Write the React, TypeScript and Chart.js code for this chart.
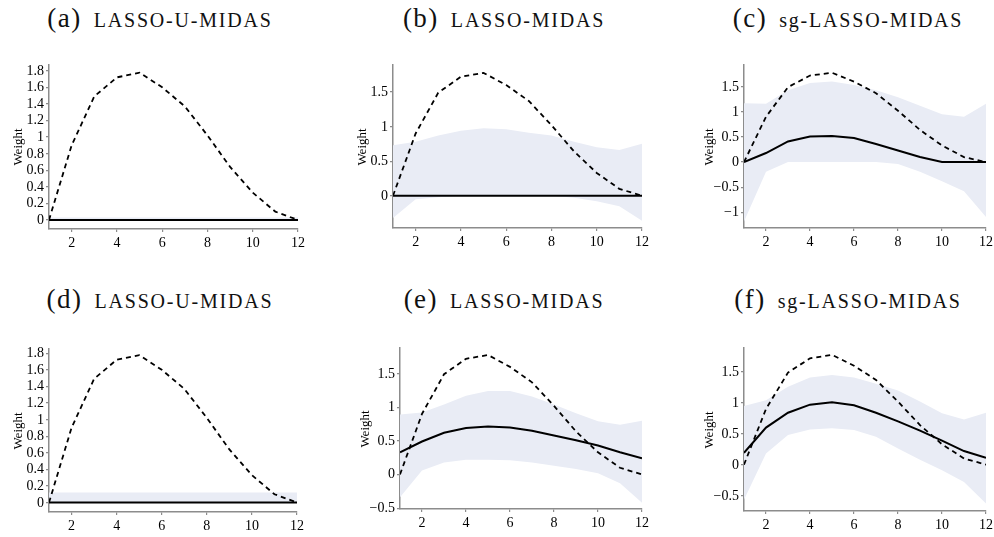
import React, { useEffect, useRef, useState } from "react";
import { Chart, registerables } from "chart.js";
Chart.register(...registerables);

const lags = [1, 2, 3, 4, 5, 6, 7, 8, 9, 10, 11, 12];
const xTickValues = [2, 4, 6, 8, 10, 12];
const trueWeights = [0, 0.9, 1.49, 1.72, 1.776, 1.6, 1.37, 1.02, 0.64, 0.33, 0.1, 0];

const yTicksFine = [0, 0.2, 0.4, 0.6, 0.8, 1, 1.2, 1.4, 1.6, 1.8];
const yTicksB = [0, 0.5, 1, 1.5];
const yTicksC = [-1, -0.5, 0, 0.5, 1, 1.5];
const yTicksEF = [-0.5, 0, 0.5, 1, 1.5];

// (a) LASSO-U-MIDAS
const estA = [0, 0, 0, 0, 0, 0, 0, 0, 0, 0, 0, 0];
const upA = [0.03, 0.03, 0.03, 0.03, 0.03, 0.03, 0.03, 0.03, 0.03, 0.03, 0.03, 0.03];
const loA = [0, 0, 0, 0, 0, 0, 0, 0, 0, 0, 0, 0];
// (b) LASSO-MIDAS
const estB = [0, 0, 0, 0, 0, 0, 0, 0, 0, 0, 0, 0];
const upB = [0.73, 0.78, 0.87, 0.94, 0.976, 0.96, 0.91, 0.87, 0.78, 0.7, 0.66, 0.75];
const loB = [-0.32, -0.05, -0.02, 0, 0, 0, 0, 0, -0.03, -0.08, -0.15, -0.36];
// (c) sg-LASSO-MIDAS
const estC = [0, 0.18, 0.41, 0.51, 0.52, 0.48, 0.36, 0.23, 0.1, 0, 0, 0];
const upC = [1.17, 1.16, 1.43, 1.57, 1.6, 1.53, 1.43, 1.29, 1.12, 0.95, 0.9, 1.16];
const loC = [-1.18, -0.19, 0, 0, 0, 0, 0, -0.04, -0.19, -0.38, -0.58, -1.09];
// (d) LASSO-U-MIDAS
const estD = [0, 0, 0, 0, 0, 0, 0, 0, 0, 0, 0, 0];
const upD = [0.12, 0.12, 0.12, 0.12, 0.12, 0.12, 0.12, 0.12, 0.12, 0.12, 0.12, 0.12];
const loD = [0, 0, 0, 0, 0, 0, 0, 0, 0, 0, 0, 0];
// (e) LASSO-MIDAS
const estE = [0.33, 0.49, 0.62, 0.69, 0.715, 0.7, 0.65, 0.58, 0.51, 0.43, 0.33, 0.24];
const upE = [0.89, 0.92, 1.04, 1.17, 1.24, 1.24, 1.16, 1.04, 0.91, 0.79, 0.74, 0.8];
const loE = [-0.34, 0.06, 0.18, 0.22, 0.22, 0.21, 0.18, 0.13, 0.08, 0.02, -0.13, -0.42];
// (f) sg-LASSO-MIDAS
const estF = [0.19, 0.6, 0.84, 0.97, 1.01, 0.96, 0.84, 0.7, 0.55, 0.39, 0.22, 0.11];
const upF = [0.95, 1.04, 1.26, 1.41, 1.45, 1.41, 1.31, 1.2, 1.02, 0.83, 0.73, 0.84];
const loF = [-0.57, 0.18, 0.48, 0.57, 0.59, 0.56, 0.45, 0.26, 0.08, -0.09, -0.28, -0.63];

const BAND = "rgb(233,236,245)";
const AXIS = "#8c8c8c";
const FONT = '"Liberation Serif", "DejaVu Serif", serif';

type Panel = {
  label: string;
  name: string;
  center: number;
  titleTop: number;
  axisX: number;
  right: number;
  top: number;
  bottom: number;
  ymin: number;
  ymax: number;
  yTicks: number[];
  weightOffset: number;
  est: number[];
  up: number[];
  lo: number[];
};

const panels: Panel[] = [
  { label: "(a)", name: "LASSO-U-MIDAS", center: 160, titleTop: 5, axisX: 49, right: 298, top: 65, bottom: 229, ymin: -0.109, ymax: 1.869, yTicks: yTicksFine, weightOffset: 32, est: estA, up: upA, lo: loA },
  { label: "(b)", name: "LASSO-MIDAS", center: 504, titleTop: 5, axisX: 393, right: 642, top: 65, bottom: 228, ymin: -0.466, ymax: 1.89, yTicks: yTicksB, weightOffset: 32, est: estB, up: upB, lo: loB },
  { label: "(c)", name: "sg-LASSO-MIDAS", center: 848, titleTop: 5, axisX: 744, right: 986, top: 65, bottom: 228, ymin: -1.31, ymax: 1.93, yTicks: yTicksC, weightOffset: 36, est: estC, up: upC, lo: loC },
  { label: "(d)", name: "LASSO-U-MIDAS", center: 160, titleTop: 286, axisX: 49, right: 297, top: 349, bottom: 512, ymin: -0.114, ymax: 1.85, yTicks: yTicksFine, weightOffset: 32, est: estD, up: upD, lo: loD },
  { label: "(e)", name: "LASSO-MIDAS", center: 504, titleTop: 286, axisX: 400, right: 642, top: 348, bottom: 509, ymin: -0.513, ymax: 1.88, yTicks: yTicksEF, weightOffset: 36, est: estE, up: upE, lo: loE },
  { label: "(f)", name: "sg-LASSO-MIDAS", center: 848, titleTop: 286, axisX: 744, right: 986, top: 348, bottom: 511, ymin: -0.75, ymax: 1.887, yTicks: yTicksEF, weightOffset: 36, est: estF, up: upF, lo: loF },
];

const fmt = (v: number) => {
  const r = Math.round(v * 10) / 10;
  const s = String(Math.abs(r));
  return r < 0 ? "\u2212" + s : s;
};

const pts = (ys: number[]) => lags.map((x, i) => ({ x, y: ys[i] }));

const AXIS_W = 50;
const PAD_TOP = 10;
const PAD_RIGHT = 20;
const X_H = 30;

type TickLabel = { t: string; p: number };

function PanelChart({ p }: { p: Panel }) {
  const ref = useRef<HTMLCanvasElement>(null);
  const [xLabels, setXLabels] = useState<TickLabel[]>([]);
  const [yLabels, setYLabels] = useState<TickLabel[]>([]);
  const left = p.axisX - AXIS_W;
  const top = p.top - PAD_TOP;
  const width = p.right + PAD_RIGHT - left;
  const height = p.bottom - top + X_H;

  useEffect(() => {
    if (!ref.current) return;
    const chart = new Chart(ref.current, {
      type: "line",
      data: {
        datasets: [
          { data: pts(trueWeights), borderColor: "#000", borderWidth: 1.8, borderDash: [5, 4], pointRadius: 0, fill: false, tension: 0 },
          { data: pts(p.est), borderColor: "#000", borderWidth: 2, pointRadius: 0, fill: false, tension: 0 },
          { data: pts(p.up), borderWidth: 0, borderColor: BAND, backgroundColor: BAND, pointRadius: 0, fill: "+1", tension: 0 },
          { data: pts(p.lo), borderWidth: 0, borderColor: BAND, backgroundColor: BAND, pointRadius: 0, fill: false, tension: 0 },
        ],
      },
      options: {
        animation: false,
        responsive: false,
        maintainAspectRatio: false,
        devicePixelRatio: 1,
        layout: { padding: { left: 0, top: PAD_TOP, right: PAD_RIGHT, bottom: 0 } },
        plugins: {
          legend: { display: false },
          tooltip: { enabled: false },
          filler: { drawTime: "beforeDatasetsDraw" },
        },
        scales: {
          x: {
            type: "linear",
            min: 1,
            max: 12,
            afterBuildTicks: (s: any) => {
              s.ticks = xTickValues.map((v) => ({ value: v }));
            },
            afterFit: (s: any) => {
              s.height = X_H;
            },
            grid: { display: true, drawOnChartArea: false, drawTicks: true, tickLength: 3, color: AXIS, lineWidth: 1.2 },
            border: { display: true, color: AXIS, width: 1.5 },
            ticks: { display: false, autoSkip: false },
          },
          y: {
            type: "linear",
            min: p.ymin,
            max: p.ymax,
            afterBuildTicks: (s: any) => {
              s.ticks = p.yTicks.map((v) => ({ value: v }));
            },
            afterFit: (s: any) => {
              s.width = AXIS_W;
            },
            grid: { display: true, drawOnChartArea: false, drawTicks: true, tickLength: 3, color: AXIS, lineWidth: 1.2 },
            border: { display: true, color: AXIS, width: 1.5 },
            ticks: { display: false, autoSkip: false },
          },
        },
      } as any,
    });
    try {
      const xs: any = chart.scales.x;
      const ys: any = chart.scales.y;
      setXLabels(xTickValues.map((v) => ({ t: String(v), p: xs.getPixelForValue(v) })));
      setYLabels(p.yTicks.map((v) => ({ t: fmt(v), p: ys.getPixelForValue(v) })));
    } catch (e) {
      // ignore
    }
    return () => chart.destroy();
  }, []);

  const textBase: React.CSSProperties = {
    position: "absolute",
    fontFamily: FONT,
    fontSize: 14,
    lineHeight: 1,
    color: "#000",
    whiteSpace: "nowrap",
  };

  return (
    <>
      <div
        style={{
          position: "absolute",
          left: p.center,
          top: p.titleTop,
          transform: "translateX(-50%)",
          whiteSpace: "nowrap",
          fontFamily: FONT,
          lineHeight: 1,
          fontSize: 27,
          color: "#111",
        }}
      >
        <span style={{ fontSize: 27, letterSpacing: 1.5 }}>{p.label}</span>
        <span style={{ fontSize: 20, letterSpacing: 1.8, marginLeft: 12 }}>{p.name}</span>
      </div>
      <canvas
        ref={ref}
        width={width}
        height={height}
        style={{ position: "absolute", left, top, width, height }}
      />
      {yLabels.map((l) => (
        <div
          key={"y" + l.t}
          style={{ ...textBase, left: p.axisX - 5, top: top + l.p, transform: "translate(-100%, -50%)" }}
        >
          {l.t}
        </div>
      ))}
      {xLabels.map((l) => (
        <div
          key={"x" + l.t}
          style={{ ...textBase, left: left + l.p, top: p.bottom + 7, transform: "translateX(-50%)" }}
        >
          {l.t}
        </div>
      ))}
      <div
        style={{
          ...textBase,
          fontSize: 13,
          left: p.axisX - p.weightOffset,
          top: (p.top + p.bottom) / 2,
          transform: "translate(-50%, -50%) rotate(-90deg)",
        }}
      >
        Weight
      </div>
    </>
  );
}

export default function App() {
  return (
    <div style={{ position: "absolute", left: 0, top: 0, width: 994, height: 537, background: "#fff", overflow: "hidden" }}>
      {panels.map((p) => (
        <PanelChart key={p.label} p={p} />
      ))}
    </div>
  );
}
